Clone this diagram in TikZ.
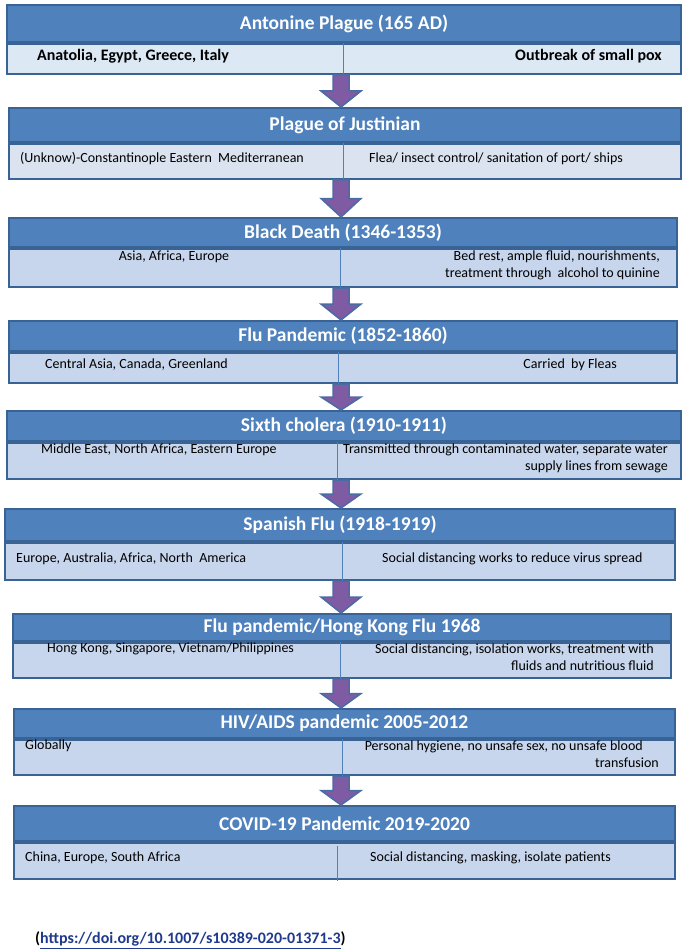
\documentclass[tikz,border=0pt]{standalone}
\usepackage{fontspec}
\setmainfont{Carlito}
\usetikzlibrary{calc}

\definecolor{hdblue}{HTML}{4F81BD}
\definecolor{hdedge}{HTML}{3A6395}
\definecolor{rowpale}{HTML}{DCE9F5}
\definecolor{rowgrey}{HTML}{DAE3EF}
\definecolor{rowblue}{HTML}{C7D6EC}
\definecolor{arrpurple}{HTML}{7E5BA2}
\definecolor{arredge}{HTML}{4A6CA5}
\definecolor{doiblue}{HTML}{1F3A8C}

% block arrow from the row of one event down to the next title
\newcommand{\flowarrow}[2]{%
  \draw[downarrow] let \p1=(#1.south), \p2=(#2.north), \p3=($(#1.south)!0.5!(#2.north)$) in
    (333pt,\y1) -- (349pt,\y1) -- (349pt,\y3) -- (361pt,\y3) -- (341pt,\y2)
    -- (321pt,\y3) -- (333pt,\y3) -- cycle;}

\begin{document}
\begin{tikzpicture}[x=1pt,y=-1pt,
    titlebox/.style={draw=hdedge, line width=2pt, fill=hdblue, text=white, inner sep=0pt,
      anchor=north west, font=\fontsize{19.5}{22}\selectfont\bfseries},
    rowbox/.style={draw=hdedge, line width=2pt, inner sep=0pt, anchor=north west},
    rowtext/.style={inner sep=0pt, font=\fontsize{14}{17}\selectfont},
    firsttext/.style={inner sep=0pt, font=\fontsize{16}{19}\selectfont\bfseries},
    divider/.style={draw=hdblue, line width=1pt},
    downarrow/.style={fill=arrpurple, draw=arredge, line width=1.5pt, line join=miter}]

  \useasboundingbox (0,0) rectangle (685,952);

  % Antonine Plague
  \node[titlebox, minimum width=674pt, minimum height=37pt] (t1) at (6,4) {Antonine Plague (165 AD)};
  \node[rowbox, fill=rowpale, minimum width=674pt, minimum height=30pt] (s1) at (t1.south west) {};
  \draw[divider] (343,0 |- s1.north) -- (343,0 |- s1.south);
  \node[firsttext, anchor=west] (l1) at (37,56) {Anatolia, Egypt, Greece, Italy};
  \node[firsttext, anchor=east] (r1) at (662,56) {Outbreak of small pox};

  % Plague of Justinian
  \node[titlebox, minimum width=672pt, minimum height=34pt] (t2) at (8,107) {Plague of Justinian};
  \node[rowbox, fill=rowgrey, minimum width=672pt, minimum height=35pt] (s2) at (t2.south west) {};
  \draw[divider] (343,0 |- s2.north) -- (343,0 |- s2.south);
  \node[rowtext, anchor=west] (l2) at (20,158.5) {(Unknow)-Constantinople Eastern\ \ Mediterranean};
  \node[rowtext, anchor=west] (r2) at (369,158.5) {Flea/ insect control/ sanitation of port/ ships};

  % Black Death
  \node[titlebox, minimum width=668pt, minimum height=29pt] (t3) at (8,217) {Black Death (1346-1353)};
  \node[rowbox, fill=rowblue, minimum width=668pt, minimum height=38pt] (s3) at (t3.south west) {};
  \draw[divider] (340,0 |- s3.north) -- (340,0 |- s3.south);
  \node[rowtext] (l3) at (174,256.5) {Asia, Africa, Europe};
  \node[rowtext, anchor=east, align=right] (r3) at (660,265) {Bed rest, ample fluid, nourishments,\\treatment through\ \ alcohol to quinine};

  % Flu Pandemic
  \node[titlebox, minimum width=668pt, minimum height=30pt] (t4) at (8,320) {Flu Pandemic (1852-1860)};
  \node[rowbox, fill=rowblue, minimum width=668pt, minimum height=30pt] (s4) at (t4.south west) {};
  \draw[divider] (338,0 |- s4.north) -- (338,0 |- s4.south);
  \node[rowtext, anchor=west] (l4) at (45,365) {Central Asia, Canada, Greenland};
  \node[rowtext, anchor=east] (r4) at (617,365) {Carried\ \ by Fleas};

  % Sixth cholera
  \node[titlebox, minimum width=674pt, minimum height=30pt] (t5) at (6,410) {Sixth cholera (1910-1911)};
  \node[rowbox, fill=rowblue, minimum width=674pt, minimum height=36pt] (s5) at (t5.south west) {};
  \draw[divider] (337,0 |- s5.north) -- (337,0 |- s5.south);
  \node[rowtext, anchor=west] (l5) at (41,449.5) {Middle East, North Africa, Eastern Europe};
  \node[rowtext, anchor=east, align=right] (r5) at (668,458) {Transmitted through contaminated water, separate water\\supply lines from sewage};

  % Spanish Flu
  \node[titlebox, minimum width=670pt, minimum height=32pt] (t6) at (4,508) {Spanish Flu (1918-1919)};
  \node[rowbox, fill=rowblue, minimum width=670pt, minimum height=37pt] (s6) at (t6.south west) {};
  \draw[divider] (342,0 |- s6.north) -- (342,0 |- s6.south);
  \node[rowtext, anchor=west] (l6) at (16,558.5) {Europe, Australia, Africa, North\ \ America};
  \node[rowtext, anchor=west] (r6) at (382,558.5) {Social distancing works to reduce virus spread};

  % Hong Kong Flu
  \node[titlebox, minimum width=658pt, minimum height=27pt] (t7) at (12,613) {Flu pandemic/Hong Kong Flu 1968};
  \node[rowbox, fill=rowblue, minimum width=658pt, minimum height=35pt] (s7) at (t7.south west) {};
  \draw[divider] (340,0 |- s7.north) -- (340,0 |- s7.south);
  \node[rowtext, anchor=west] (l7) at (47,649) {Hong Kong, Singapore, Vietnam/Philippines};
  \node[rowtext, anchor=east, align=right] (r7) at (654,657.5) {Social distancing, isolation works, treatment with\\fluids and nutritious fluid};

  % HIV/AIDS
  \node[titlebox, minimum width=661pt, minimum height=29pt] (t8) at (13,708) {HIV/AIDS pandemic 2005-2012};
  \node[rowbox, fill=rowblue, minimum width=661pt, minimum height=35pt] (s8) at (t8.south west) {};
  \draw[divider] (342,0 |- s8.north) -- (342,0 |- s8.south);
  \node[rowtext, anchor=west] (l8) at (25,745.5) {Globally};
  \node[rowtext, anchor=east, align=right] (r8) at (659,754) {Personal hygiene, no unsafe sex, no unsafe blood\hspace*{16pt}\\transfusion};

  % COVID-19
  \node[titlebox, minimum width=661pt, minimum height=35pt] (t9) at (13,805) {COVID-19 Pandemic 2019-2020};
  \node[rowbox, fill=rowblue, minimum width=661pt, minimum height=36pt] (s9) at (t9.south west) {};
  \draw[divider] (337,846) -- (337,881);
  \node[rowtext, anchor=west] (l9) at (25,858) {China, Europe, South Africa};
  \node[rowtext, anchor=west] (r9) at (370,858) {Social distancing, masking, isolate patients};

  % arrows
  \flowarrow{s1}{t2}
  \flowarrow{s2}{t3}
  \flowarrow{s3}{t4}
  \flowarrow{s4}{t5}
  \flowarrow{s5}{t6}
  \flowarrow{s6}{t7}
  \flowarrow{s7}{t8}
  \flowarrow{s8}{t9}

  \node[firsttext, anchor=west] (doi) at (35,940) {(\textcolor{doiblue}{\underline{https://doi.org/10.1007/s10389-020-01371-3}})};

\end{tikzpicture}
\end{document}
